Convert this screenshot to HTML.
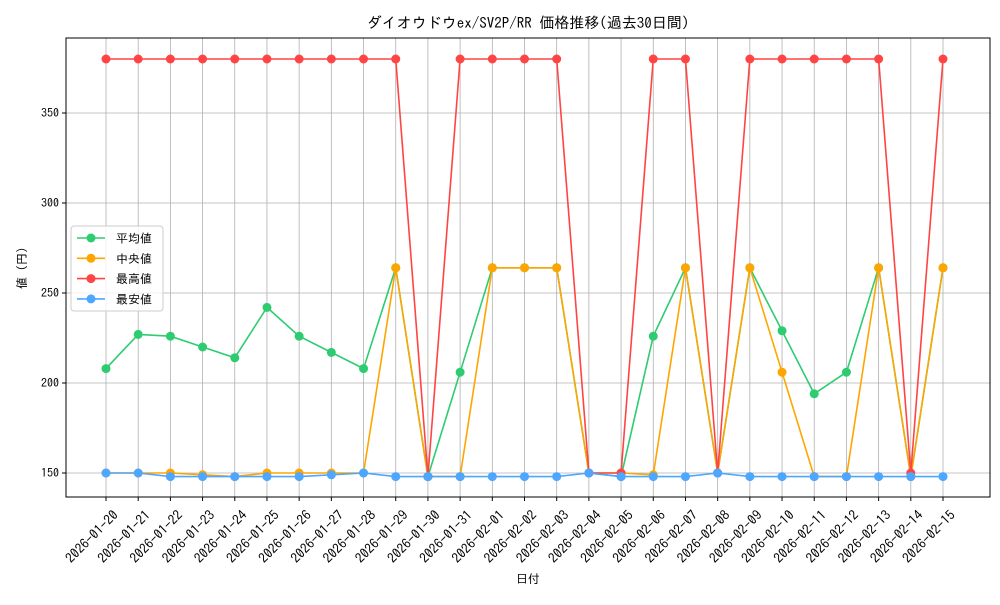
<!DOCTYPE html>
<html><head><meta charset="utf-8"><style>
body{margin:0;background:#fff}
svg text{font-family:"IPAGothic","Noto Sans CJK JP",sans-serif;fill:#000}
</style></head><body>
<svg id="chart" width="1000" height="600"></svg>
<script>
const dates=["2026-01-20","2026-01-21","2026-01-22","2026-01-23","2026-01-24","2026-01-25","2026-01-26","2026-01-27","2026-01-28","2026-01-29","2026-01-30","2026-01-31","2026-02-01","2026-02-02","2026-02-03","2026-02-04","2026-02-05","2026-02-06","2026-02-07","2026-02-08","2026-02-09","2026-02-10","2026-02-11","2026-02-12","2026-02-13","2026-02-14","2026-02-15"];
const avgVals=[208,227,226,220,214,242,226,217,208,264,148,206,264,264,264,150,148,226,264,150,264,229,194,206,264,148,264];
const medVals=[150,150,150,149,148,150,150,150,150,264,148,148,264,264,264,150,150,149,264,150,264,206,148,148,264,148,264];
const maxVals=[380,380,380,380,380,380,380,380,380,380,148,380,380,380,380,150,150,380,380,150,380,380,380,380,380,150,380];
const minVals=[150,150,148,148,148,148,148,149,150,148,148,148,148,148,148,150,148,148,148,150,148,148,148,148,148,148,148];
const yTicks=[150,200,250,300,350];
const NS="http://www.w3.org/2000/svg";
const svg=document.getElementById("chart");
const L=66,R=990,T=38,B=497;
const x=i=>106+i*(943-106)/(dates.length-1);
const y=v=>473-(v-150)*1.8;
function mk(tag,attrs,parent){const e=document.createElementNS(NS,tag);for(const k in attrs)e.setAttribute(k,attrs[k]);(parent||svg).appendChild(e);return e;}
dates.forEach((d,i)=>{
 const g=mk("line",{x1:x(i),x2:x(i),y1:T,y2:B,stroke:"#b0b0b0","stroke-width":0.8});
 
 
 const t=mk("line",{x1:x(i),x2:x(i),y1:B,y2:B+4,stroke:"#000"});
 
 
 const ax=x(i)+13, ay=B+19;
 const lb=mk("text",{x:ax,y:ay,"font-size":13.5,"text-anchor":"end",transform:`rotate(-45 ${ax} ${ay})`});
 lb.textContent=d;
 
 
});
yTicks.forEach(v=>{
 const g=mk("line",{x1:L,x2:R,y1:y(v),y2:y(v),stroke:"#b0b0b0","stroke-width":0.8});
 
 
 mk("line",{x1:L-4,x2:L,y1:y(v),y2:y(v),stroke:"#000"});
 const lb=mk("text",{x:L-7,y:y(v)+4,"font-size":12,"text-anchor":"end"});
 lb.textContent=v;
 
 
});
const frame=mk("rect",{x:L,y:T,width:R-L,height:B-T,fill:"none",stroke:"#000","stroke-width":1});


const series=[["平均値",avgVals,"#2ecc71","series-average"],["中央値",medVals,"#ffa500","series-median"],["最高値",maxVals,"#ff4444","series-max"],["最安値",minVals,"#4da6ff","series-min"]];
series.forEach(([n,vals,c,name])=>{
 const g=mk("g",{});
 
 
 mk("polyline",{points:vals.map((v,i)=>x(i)+","+y(v)).join(" "),fill:"none",stroke:c,"stroke-width":1.6},g);
 vals.forEach((v,i)=>{
  const p=mk("circle",{cx:x(i),cy:y(v),r:4.5,fill:c},g);
  
  
 });
});
const lg=mk("g",{});


mk("rect",{x:71,y:226,width:92,height:85,rx:3,fill:"#fff","fill-opacity":0.8,stroke:"#ccc"},lg);
series.forEach(([n,vals,c],k)=>{
 const yy=238+k*20.3;
 const e=mk("g",{},lg);
 
 
 mk("line",{x1:77,x2:105,y1:yy,y2:yy,stroke:c,"stroke-width":1.6},e);
 mk("circle",{cx:91,cy:yy,r:4.5,fill:c},e);
 const t=mk("text",{x:116,y:yy+4.5,"font-size":12},e);t.textContent=n;
});
const title=mk("text",{x:528,y:28,"font-size":15,"text-anchor":"middle"});
title.textContent="ダイオウドウex/SV2P/RR 価格推移(過去30日間)";


const xt=mk("text",{x:528,y:583,"font-size":12,"text-anchor":"middle"});
xt.textContent="日付";


const yt=mk("text",{x:26,y:268,"font-size":12,"text-anchor":"middle",transform:"rotate(-90 26 268)"});
yt.textContent="値 (円)";


</script>
</body></html>
